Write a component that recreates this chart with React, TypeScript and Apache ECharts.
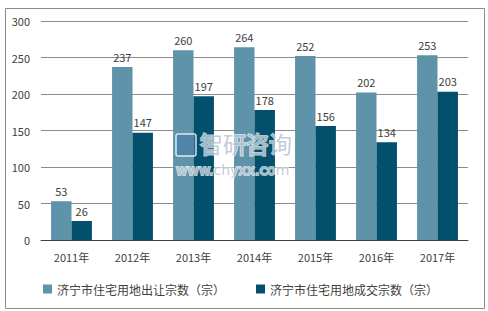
import React, { useEffect, useRef } from "react";
import * as echarts from "echarts";

const categories = ["2011年", "2012年", "2013年", "2014年", "2015年", "2016年", "2017年"];
const transferCounts = [53, 237, 260, 264, 252, 202, 253];
const dealCounts = [26, 147, 197, 178, 156, 134, 203];
const seriesNames = ["济宁市住宅用地出让宗数（宗）", "济宁市住宅用地成交宗数（宗）"];
const yTicks = { min: 0, max: 300, interval: 50 };

const FONT = "'Noto Sans CJK SC', 'Noto Sans', sans-serif";

export default function App() {
  const ref = useRef<HTMLDivElement>(null);
  useEffect(() => {
    document.body.style.margin = "0";
    const chart = echarts.init(ref.current!, null, { renderer: "svg" });
    chart.setOption({
      animation: false,
      backgroundColor: "#ffffff",
      textStyle: { fontFamily: FONT },
      grid: { left: 41, right: 20, top: 21, bottom: 71 },
      legend: [
        {
          data: [seriesNames[0]],
          left: 38,
          top: 278,
          itemWidth: 9,
          itemHeight: 9,
          itemGap: 4,
          icon: "rect",
          textStyle: { fontSize: 12, color: "#404040", fontFamily: FONT },
        },
        {
          data: [seriesNames[1]],
          left: 251,
          top: 278,
          itemWidth: 9,
          itemHeight: 9,
          icon: "rect",
          textStyle: { fontSize: 12, color: "#404040", fontFamily: FONT },
        },
      ],
      xAxis: {
        type: "category",
        data: categories,
        axisLine: { lineStyle: { color: "#404040", width: 1 } },
        axisTick: { show: false },
        axisLabel: { fontSize: 11, color: "#404040", margin: 11, fontFamily: FONT },
      },
      yAxis: {
        type: "value",
        min: yTicks.min,
        max: yTicks.max,
        interval: yTicks.interval,
        axisLine: { show: false },
        axisTick: { show: false },
        splitLine: { lineStyle: { color: "#8c8c8c", width: 1 } },
        axisLabel: { fontSize: 11, color: "#404040", margin: 11, fontFamily: FONT },
      },
      graphic: [
        {
          type: "rect",
          left: 3,
          top: 6,
          shape: { width: 479, height: 300 },
          style: { fill: "none", stroke: "#8a8a8a", lineWidth: 1 },
          z: 100,
        },
        {
          type: "rect",
          x: 176,
          y: 134,
          shape: { width: 20, height: 22, r: 2 },
          style: { fill: "rgba(70,120,170,0.55)", stroke: "rgba(255,255,255,0.8)", lineWidth: 1.5 },
          z: 100,
        },
        {
          type: "text",
          x: 200,
          y: 131,
          style: {
            text: "智研咨询",
            fontSize: 23,
            lineHeight: 24,
            fontFamily: FONT,
            fill: "rgba(150,170,190,0.6)",
            stroke: "rgba(255,255,255,0.7)",
            lineWidth: 2,
          },
          z: 100,
        },
        {
          type: "text",
          x: 176,
          y: 163,
          style: {
            text: "www.chyxx.com",
            fontSize: 14,
            lineHeight: 14,
            fontFamily: "'DejaVu Sans', sans-serif",
            fill: "rgba(150,170,190,0.6)",
            stroke: "rgba(255,255,255,0.7)",
            lineWidth: 2,
          },
          z: 100,
        },
      ],
      series: [
        {
          name: seriesNames[0],
          type: "bar",
          data: transferCounts,
          barGap: "0%",
          barCategoryGap: "33%",
          itemStyle: { color: "#5f93a9" },
          label: { show: true, position: "top", fontSize: 11, color: "#404040", distance: 5, fontFamily: FONT },
        },
        {
          name: seriesNames[1],
          type: "bar",
          data: dealCounts,
          itemStyle: { color: "#02506c" },
          label: { show: true, position: "top", fontSize: 11, color: "#404040", distance: 5, fontFamily: FONT },
        },
      ],
    });
    return () => chart.dispose();
  }, []);
  return <div ref={ref} style={{ position: "fixed", left: 0, top: 0, width: 488, height: 311 }} />;
}
